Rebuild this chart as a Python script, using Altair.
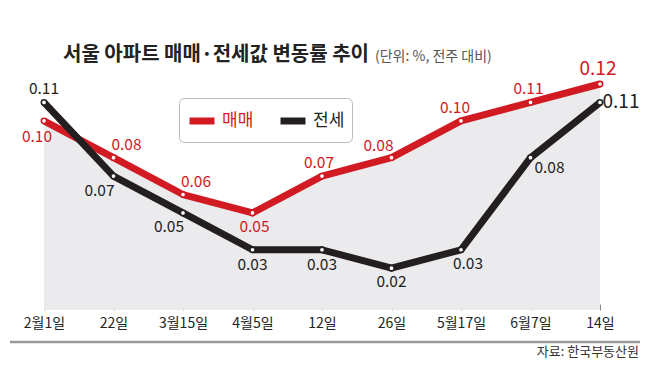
import altair as alt
import pandas as pd

# ---- data ----
DATES = ["2월1일", "22일", "3월15일", "4월5일", "12일", "26일", "5월17일", "6월7일", "14일"]
SALE = [0.10, 0.08, 0.06, 0.05, 0.07, 0.08, 0.10, 0.11, 0.12]      # 매매
JEONSE = [0.11, 0.07, 0.05, 0.03, 0.03, 0.02, 0.03, 0.08, 0.11]    # 전세
SERIES = ["매매", "전세"]
TITLE = "서울 아파트 매매·전세값 변동률 추이"
SUBTITLE = "(단위: %, 전주 대비)"
SOURCE = "자료: 한국부동산원"

RED = "#d11a22"
BLACK = "#231f20"
FONT = "Noto Sans CJK KR"
Y_MIN, Y_MAX = -0.0027, 0.12
W, H = 556, 226

rows = []
for i, d in enumerate(DATES):
    rows.append({"idx": i, "date": d, "series": SERIES[0], "value": SALE[i], "label": f"{SALE[i]:.2f}"})
for i, d in enumerate(DATES):
    rows.append({"idx": i, "date": d, "series": SERIES[1], "value": JEONSE[i], "label": f"{JEONSE[i]:.2f}"})
df = pd.DataFrame(rows)

base = alt.Chart(df)
x_enc = alt.X("date:N", sort=DATES, scale=alt.Scale(type="point", padding=0),
              axis=alt.Axis(title=None, domain=False, ticks=True, tickColor="#888", tickSize=6,
                            tickWidth=1, offset=-6, labelAngle=0, labelFont=FONT, labelFontSize=14,
                            labelColor="#222", labelPadding=6, grid=False))
y_enc = alt.Y("value:Q", scale=alt.Scale(domain=[Y_MIN, Y_MAX], nice=False, zero=False), axis=None)
color_scale = alt.Scale(domain=SERIES, range=[RED, BLACK])

area = base.transform_filter(alt.datum.series == SERIES[0]).mark_area(color="#ebebed").encode(
    x=x_enc, y=y_enc, y2=alt.datum(Y_MIN))

lines = base.mark_line(strokeWidth=7, strokeJoin="round").encode(
    x=x_enc, y=y_enc,
    color=alt.Color("series:N", scale=color_scale, sort=SERIES,
                    legend=alt.Legend(title=None, orient="none", legendX=135, legendY=14,
                                      direction="horizontal", symbolType="stroke",
                                      symbolStrokeWidth=7, symbolSize=625, labelFont=FONT,
                                      labelFontSize=17, labelOffset=4, columnPadding=12,
                                      padding=7, strokeColor="#bbb", fillColor="white",
                                      cornerRadius=5,
                                      labelColor=alt.ExprRef("datum.value == '매매' ? '" + RED + "' : '" + BLACK + "'"))),
    detail="series:N")

points = base.mark_point(filled=False, fill="white", size=28, strokeWidth=1.6, opacity=1).encode(
    x=x_enc, y=y_enc, color=alt.Color("series:N", scale=color_scale, legend=None))

# label offsets (dx, dy) for each point
RED_OFF = [(-7, 16), (13, -13), (13, -13), (2, 14), (-3, -13), (-13, -12), (-6, -13), (-2, -13), (-2, -15)]
BLK_OFF = [(0, -13), (-14, 15), (-14, 14), (0, 15), (0, 15), (0, 14), (7, 14), (19, 10), (21, 0)]

label_layers = []
for s, offs, col in [(SERIES[0], RED_OFF, RED), (SERIES[1], BLK_OFF, "#222")]:
    for i, (dx, dy) in enumerate(offs):
        big = i == len(offs) - 1
        label_layers.append(
            base.transform_filter((alt.datum.series == s) & (alt.datum.idx == i)).mark_text(
                dx=dx, dy=dy, font=FONT, fontSize=19 if big else 15.5, color=col,
                baseline="middle", align="center").encode(x=x_enc, y=y_enc, text="label:N"))

title = alt.Chart(pd.DataFrame({"t": [TITLE]})).mark_text(
    font=FONT, fontSize=20, fontWeight="bold", color="#222", align="left", baseline="alphabetic"
).encode(x=alt.value(19), y=alt.value(-23), text="t:N")
subtitle = alt.Chart(pd.DataFrame({"t": [SUBTITLE]})).mark_text(
    font=FONT, fontSize=14, color="#555", align="left", baseline="alphabetic"
).encode(x=alt.value(331), y=alt.value(-23), text="t:N")
source = alt.Chart(pd.DataFrame({"t": [SOURCE]})).mark_text(
    font=FONT, fontSize=13, color="#333", align="right", baseline="middle"
).encode(x=alt.value(595), y=alt.value(268), text="t:N")
rule = alt.Chart(pd.DataFrame({"a": [0]})).mark_rule(color="#999", strokeWidth=2.5).encode(
    x=alt.value(-34), x2=alt.value(596), y=alt.value(258))

chart = alt.layer(area, lines, points, *label_layers, title, subtitle, source, rule).properties(
    width=W, height=H, autosize=alt.AutoSizeParams(type="none"),
    padding={"left": 36, "top": 76, "right": 50, "bottom": 65},
    background="white"
).configure_view(stroke=None)

chart.save("out.html", embed_options={"renderer": "svg", "actions": False})
